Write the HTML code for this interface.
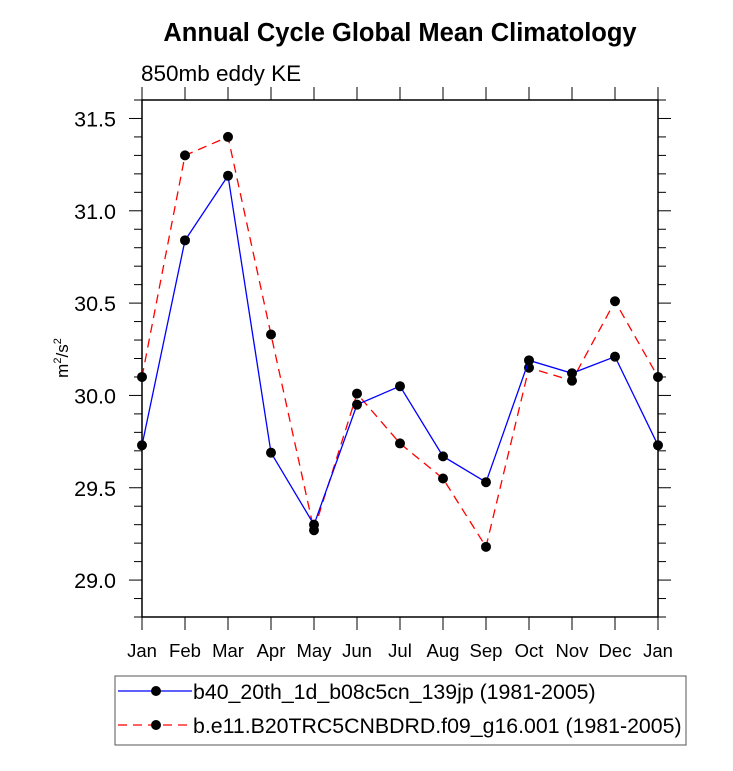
<!DOCTYPE html>
<html><head><meta charset="utf-8"><style>
body{margin:0;background:#fff}
svg text{font-family:"Liberation Sans",sans-serif}
</style></head><body>
<svg width="733" height="766" id="c">
<text x="400" y="41" text-anchor="middle" font-size="25.5" font-weight="bold">Annual Cycle Global Mean Climatology</text>
<text x="141" y="81" font-size="22.5">850mb eddy KE</text>
<text transform="translate(68,358) rotate(-90)" text-anchor="middle" font-size="17">m<tspan font-size="11" dy="-7">2</tspan><tspan dy="7">/s</tspan><tspan font-size="11" dy="-7">2</tspan></text>
<rect x="142" y="100" width="516" height="517" fill="none" stroke="#000" stroke-width="1.5"/>
<g id="ax"></g><g id="series"></g>
<rect x="115" y="676" width="571" height="69" fill="none" stroke="#555"/>
<g>
<line x1="118" y1="691" x2="192" y2="691" stroke="#00f" stroke-width="1.3"/><circle cx="156" cy="691" r="5"/>
<text x="193" y="699" font-size="21.3">b40_20th_1d_b08c5cn_139jp (1981-2005)</text></g>
<g>
<line x1="118" y1="725" x2="192" y2="725" stroke="#f00" stroke-width="1.3" stroke-dasharray="9,6"/><circle cx="156" cy="725" r="5"/>
<text x="193" y="733" font-size="21.3">b.e11.B20TRC5CNBDRD.f09_g16.001 (1981-2005)</text></g>
</svg>
<script>
const months=["Jan","Feb","Mar","Apr","May","Jun","Jul","Aug","Sep","Oct","Nov","Dec","Jan"];
const yTicks=[29.0,29.5,30.0,30.5,31.0,31.5];
const yTickLabels=["29.0","29.5","30.0","30.5","31.0","31.5"];
const blueVals=[29.73,30.84,31.19,29.69,29.30,29.95,30.05,29.67,29.53,30.19,30.12,30.21,29.73];
const redVals=[30.10,31.30,31.40,30.33,29.27,30.01,29.74,29.55,29.18,30.15,30.08,30.51,30.10];
const X0=142,X1=658,Y0=617,Y1=100,ymin=28.8,ymax=31.6;
const xs=i=>X0+(X1-X0)*i/(months.length-1);
const ys=v=>Y0-(Y0-Y1)*(v-ymin)/(ymax-ymin);
const NS="http://www.w3.org/2000/svg";
function mk(t,a,p){const e=document.createElementNS(NS,t);for(const k in a)e.setAttribute(k,a[k]);p.appendChild(e);return e;}
const ax=document.getElementById('ax');
for(let v=Math.ceil(ymin*10);v<=ymax*10;v++){
 const y=ys(v/10),maj=v%5===0,L=maj?13:8;
 const a=mk('line',{x1:X0-L,x2:X0,y1:y,y2:y,stroke:'#000','stroke-width':1},ax);
 
 const b=mk('line',{x1:X1,x2:X1+L,y1:y,y2:y,stroke:'#000','stroke-width':1},ax);
 
}
yTicks.forEach((v,i)=>{const t=mk('text',{x:X0-26,y:ys(v)+8,'text-anchor':'end','font-size':21.5},ax);t.textContent=yTickLabels[i];
 });
months.forEach((m,i)=>{const x=xs(i);
 const a=mk('line',{x1:x,x2:x,y1:Y0,y2:Y0+13,stroke:'#000'},ax);
 
 const b=mk('line',{x1:x,x2:x,y1:Y1-13,y2:Y1,stroke:'#000'},ax);
 
 const t=mk('text',{x:x,y:657,'text-anchor':'middle','font-size':18.5},ax);t.textContent=m;
 });
const sg=document.getElementById('series');
function series(vals,col,dash,name){
 const p=mk('polyline',{points:vals.map((v,i)=>xs(i)+','+ys(v)).join(' '),fill:'none',stroke:col,'stroke-width':1.3,'stroke-dasharray':dash},sg);
 
 vals.forEach((v,i)=>{const c=mk('circle',{cx:xs(i),cy:ys(v),r:5,fill:'#000'},sg);
  });
}
series(redVals,'#f00','9,6','red-series');
series(blueVals,'#00f','none','blue-series');
</script>
</body></html>
